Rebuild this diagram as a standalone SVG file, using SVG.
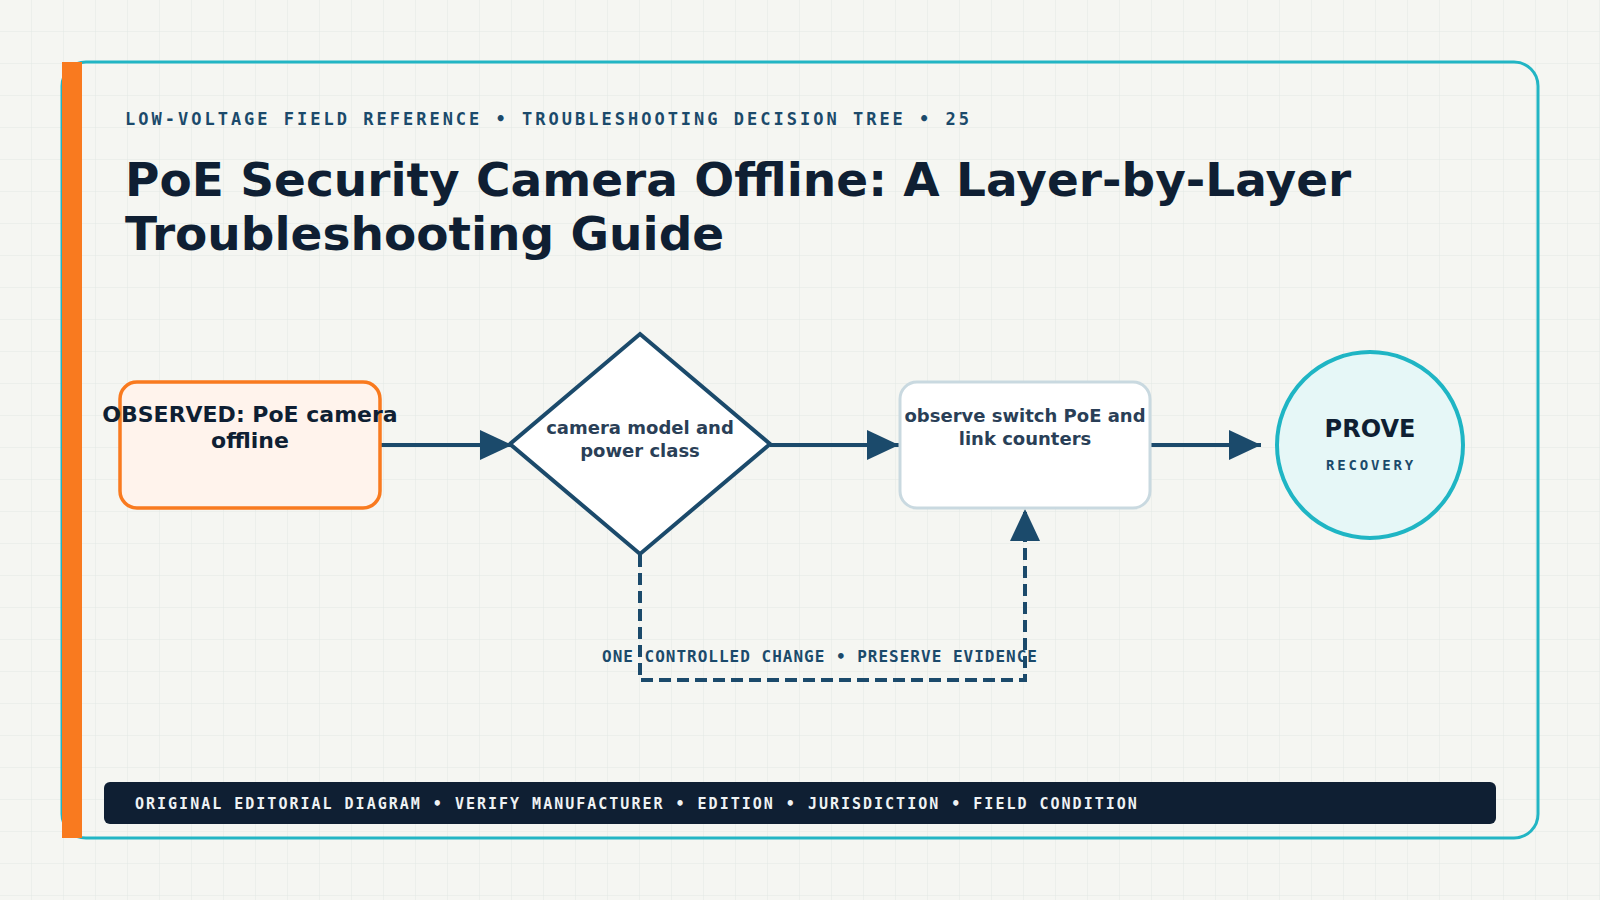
<svg xmlns="http://www.w3.org/2000/svg" width="1600" height="900" viewBox="0 0 1600 900">
<style>
.mono{font-family:"DejaVu Sans Mono","Liberation Mono",monospace;font-weight:bold}
.sans{font-family:"DejaVu Sans","Liberation Sans",sans-serif;font-weight:bold}
.edge{fill:none;stroke:#1b4a6b;stroke-width:4}
.dash{stroke-dasharray:12 6}
.lbl{fill:#2a3f57;font-size:18px}
</style>
<defs>
<pattern id="grid" width="32" height="32" patternUnits="userSpaceOnUse">
<path d="M32 0 V32 M0 32 H32" fill="none" stroke="#e2e9e5" stroke-width="1"/>
</pattern>
<marker id="arr" markerUnits="userSpaceOnUse" markerWidth="32" markerHeight="30" refX="32" refY="15" orient="auto">
<path d="M0,0 L32,15 L0,30 z" fill="#1b4a6b"/>
</marker>
</defs>
<rect width="1600" height="900" fill="#f5f6f2"/>
<rect width="1600" height="900" fill="url(#grid)"/>
<rect x="62" y="62" width="1476" height="776" rx="24" fill="none" stroke="#22b5c4" stroke-width="3"/>
<rect x="62" y="62" width="20" height="776" fill="#f97a1f"/>
<text class="mono" x="125" y="125" font-size="17" letter-spacing="3" fill="#1b4a6b">LOW-VOLTAGE FIELD REFERENCE • TROUBLESHOOTING DECISION TREE • 25</text>
<text class="sans" font-size="47" fill="#0f1f33"><tspan x="125" y="196">PoE Security Camera Offline: A Layer-by-Layer</tspan><tspan x="125" y="250">Troubleshooting Guide</tspan></text>
<g id="connectors">
<line class="edge" x1="380" y1="445" x2="512" y2="445" marker-end="url(#arr)"/>
<line class="edge" x1="770" y1="445" x2="899" y2="445" marker-end="url(#arr)"/>
<line class="edge" x1="1150" y1="445" x2="1261" y2="445" marker-end="url(#arr)"/>
<path class="edge dash" d="M640 555 V680 H1025 V509" marker-end="url(#arr)"/>
<text class="mono" x="820" y="662" font-size="16" letter-spacing="1" fill="#1b4a6b" text-anchor="middle">ONE CONTROLLED CHANGE • PRESERVE EVIDENCE</text>
</g>
<g id="node-observed">
<rect x="120" y="382" width="260" height="126" rx="17" fill="#fff3ec" stroke="#f97a1f" stroke-width="3.5"/>
<text class="sans" font-size="22" fill="#0f1f33" text-anchor="middle"><tspan x="250" y="422">OBSERVED: PoE camera</tspan><tspan x="250" y="448">offline</tspan></text>
</g>
<g id="node-decision">
<path d="M640 334 L770 444 L640 554 L510 444 Z" fill="#ffffff" stroke="#1b4a6b" stroke-width="4"/>
<text class="sans lbl" text-anchor="middle"><tspan x="640" y="434">camera model and</tspan><tspan x="640" y="457">power class</tspan></text>
</g>
<g id="node-observe">
<rect x="900" y="382" width="250" height="126" rx="17" fill="#ffffff" stroke="#c9d9e0" stroke-width="3"/>
<text class="sans lbl" text-anchor="middle"><tspan x="1025" y="422">observe switch PoE and</tspan><tspan x="1025" y="445">link counters</tspan></text>
</g>
<g id="node-prove">
<circle cx="1370" cy="445" r="93" fill="#e6f7f7" stroke="#1fb5c4" stroke-width="4"/>
<text class="sans" x="1370" y="437" font-size="24" fill="#0f1f33" text-anchor="middle">PROVE</text>
<text class="mono" x="1371" y="470" font-size="14" letter-spacing="2.8" fill="#1b4a6b" text-anchor="middle">RECOVERY</text>
</g>
<g id="footer">
<rect x="104" y="782" width="1392" height="42" rx="6" fill="#0f1f33"/>
<text class="mono" x="135" y="809" font-size="15" letter-spacing="2" fill="#eef2f4">ORIGINAL EDITORIAL DIAGRAM • VERIFY MANUFACTURER • EDITION • JURISDICTION • FIELD CONDITION</text>
</g>
</svg>
